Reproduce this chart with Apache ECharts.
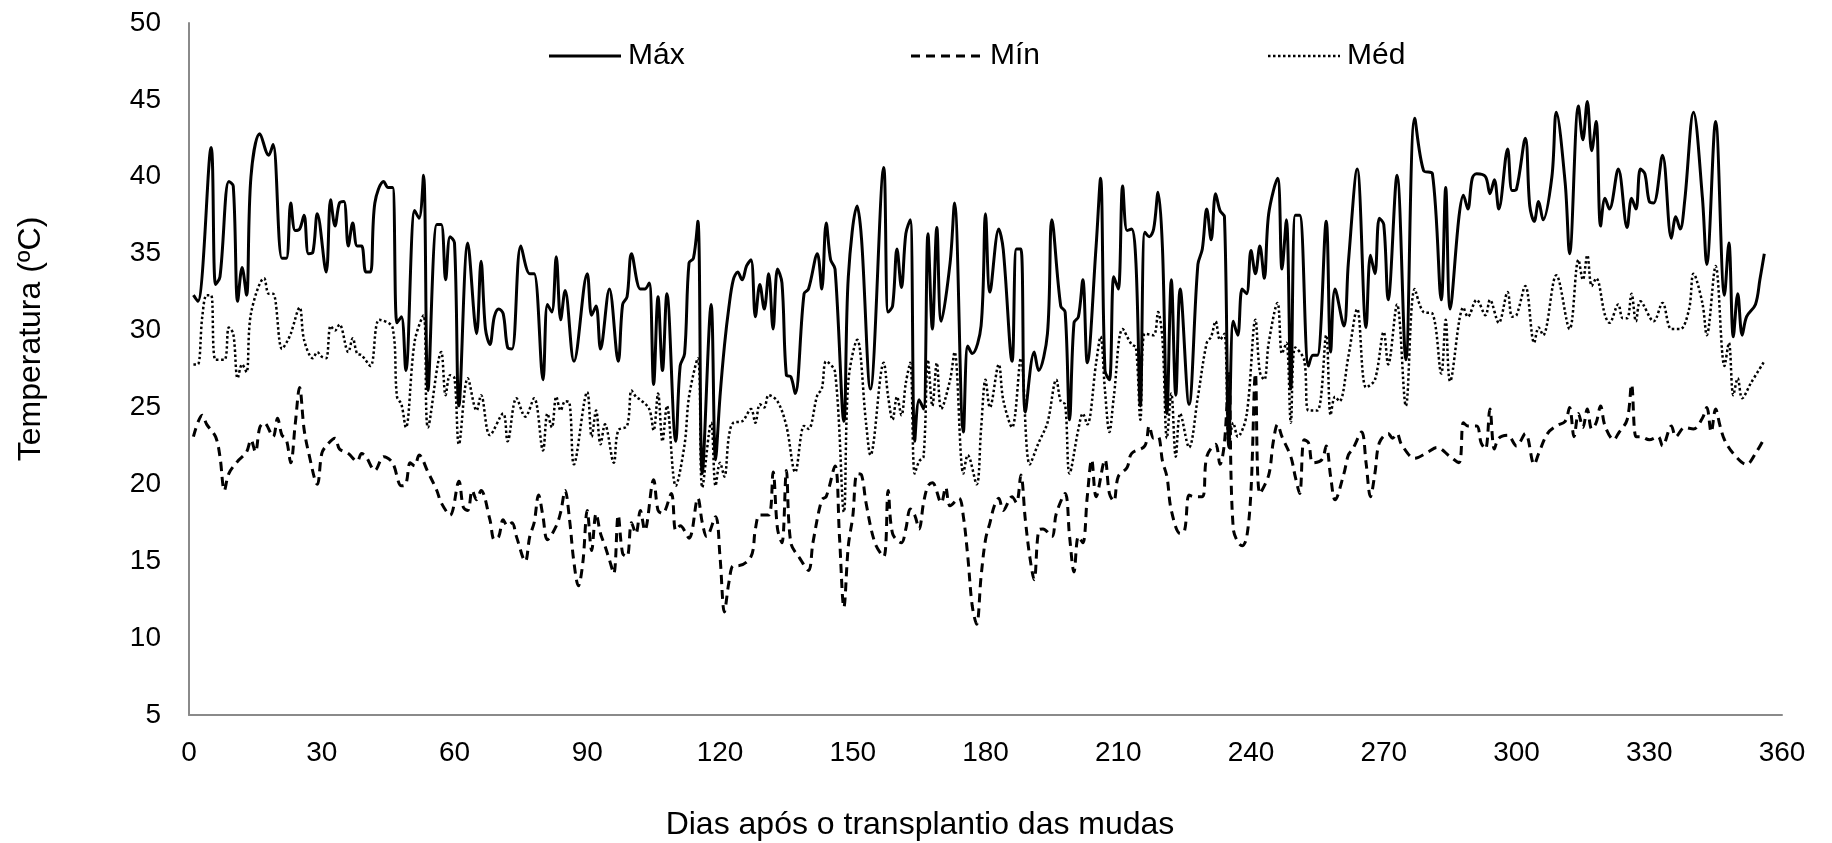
<!DOCTYPE html>
<html>
<head>
<meta charset="utf-8">
<script src="https://cdn.jsdelivr.net/npm/echarts@6/dist/echarts.min.js"></script>
<style>
html,body{margin:0;padding:0;background:#fff;}
#chart{width:1832px;height:843px;}
</style>
</head>
<body>
<div id="chart"></div>
<script>
// Tick labels
const xTicks = [0, 30, 60, 90, 120, 150, 180, 210, 240, 270, 300, 330, 360];
const yTicks = [5, 10, 15, 20, 25, 30, 35, 40, 45, 50];
const seriesNames = ['Máx', 'Mín', 'Méd'];

// Máx
const maxDays = [1,2,5,6,7,9,10,11,12,13,14,16,18,19,21,22,23,24,25,26,27,28,29,31,32,33,34,35,36,37,38,39,40,41,42,44,45,46,47,48,49,51,52,53,54,56,57,58,59,60,61,63,65,66,67,68,69,70,71,72,73,75,77,78,80,81,82,83,84,85,87,90,91,92,93,95,97,98,99,100,102,103,104,105,106,107,108,110,111,112,113,114,115,116,118,119,120,121,122,123,124,125,126,127,128,129,130,131,132,133,134,135,136,137,139,140,142,143,144,145,146,148,149,151,152,154,157,158,159,160,161,162,163,164,165,166,167,168,169,170,172,173,175,176,177,179,180,181,183,184,186,187,188,189,191,192,194,195,197,198,199,200,201,202,203,205,206,207,208,209,210,211,212,213,214,215,216,217,218,219,220,221,222,223,224,226,228,229,230,231,232,233,234,235,236,237,238,239,240,241,242,243,244,246,247,248,249,250,251,253,254,255,257,258,259,261,262,264,266,267,268,269,270,271,273,275,277,279,281,283,284,285,287,288,289,290,291,293,294,295,296,298,299,300,302,303,304,305,306,308,309,311,312,314,315,316,317,318,319,320,321,323,325,326,327,328,329,330,331,333,335,336,337,338,340,342,343,345,347,348,349,350,351,352,354,355,356];
const maxTemps = [32.3,31.9,41.9,33.0,33.5,39.7,39.4,31.9,34.1,32.3,40.0,42.8,41.4,42.1,34.7,34.7,38.3,36.5,36.6,37.5,35.0,35.1,37.6,33.8,38.5,36.8,38.3,38.4,35.5,37.0,35.5,35.5,33.8,33.8,38.3,39.7,39.3,39.3,30.5,30.9,27.4,37.8,37.3,40.1,26.1,36.9,36.9,33.3,36.1,35.7,25.1,35.7,29.8,34.5,30.1,29.1,30.9,31.4,31.1,28.9,28.8,35.5,33.7,33.7,26.8,31.7,31.2,34.8,30.7,32.6,28.0,33.7,31.0,31.6,28.8,32.7,28.0,31.7,32.2,35.0,32.7,32.7,33.1,26.5,32.2,27.4,32.4,22.8,27.7,28.5,34.4,34.7,37.1,20.7,31.7,21.6,25.7,29.0,31.5,33.3,33.8,33.3,34.2,34.6,30.9,33.0,31.4,33.7,30.1,34.0,33.1,27.1,27.0,25.9,32.4,32.7,35.0,32.7,37.0,34.6,34.0,24.1,33.5,38.1,35.9,26.2,40.6,31.2,31.6,35.3,32.8,36.3,37.2,22.8,25.5,24.9,36.3,30.1,36.7,30.6,34.4,38.3,23.4,29.0,28.5,30.3,37.6,32.5,36.6,35.3,28.0,35.3,35.3,24.7,28.6,27.4,29.8,37.2,31.6,31.2,24.2,30.5,30.9,33.3,27.9,35.5,39.9,27.4,26.8,33.5,32.7,39.4,36.5,36.6,34.4,25.1,36.4,36.1,36.6,39.0,35.3,24.6,33.3,25.8,32.7,25.2,34.3,35.3,37.9,35.9,38.9,37.8,37.4,22.4,30.6,29.7,32.7,32.4,35.2,33.7,35.5,33.4,37.6,39.9,34.0,37.2,26.2,37.5,37.5,27.7,28.4,28.4,37.1,28.6,32.7,30.3,34.4,40.5,30.2,34.9,33.7,37.3,36.9,32.0,40.1,28.1,43.8,40.4,40.2,32.0,39.3,31.4,37.4,38.8,37.9,39.9,40.2,40.0,38.9,39.8,37.9,41.8,39.1,39.2,42.5,38.1,37.1,38.4,37.2,40.0,44.2,39.6,35.0,44.6,42.4,44.9,41.7,43.6,36.8,38.6,37.9,40.5,36.7,38.6,37.9,40.5,40.2,38.4,38.3,41.4,36.0,37.4,36.6,38.4,44.2,38.7,34.3,43.6,32.3,35.7,29.6,32.4,29.7,30.9,31.7,33.3,35.0];

// Mín
const minDays = [1,3,4,6,7,8,9,11,13,14,15,16,17,19,20,21,22,23,24,25,26,27,29,30,31,33,34,36,38,39,40,42,44,46,48,49,50,51,52,54,56,57,59,61,62,63,64,65,66,68,69,70,71,72,73,74,76,77,78,79,80,81,83,84,85,86,87,88,89,90,91,92,93,94,95,96,97,98,99,100,101,102,103,105,106,107,109,110,111,113,115,116,117,119,120,121,122,123,124,127,128,129,131,132,133,134,135,136,138,140,141,143,144,146,147,148,149,150,151,152,153,155,157,158,159,161,162,163,164,165,166,167,168,170,171,172,174,175,176,177,178,179,180,181,182,183,184,186,187,188,189,190,191,192,193,195,196,198,199,200,201,202,203,204,205,207,208,209,210,212,213,216,217,218,219,220,221,222,224,225,226,227,229,230,232,233,234,235,236,238,239,240,241,242,244,245,246,247,249,250,251,252,253,254,256,257,258,259,261,262,263,265,266,267,268,269,271,272,273,274,277,280,282,285,287,288,289,291,292,293,294,295,296,298,300,302,304,305,307,309,311,312,313,314,315,316,317,318,319,320,322,323,325,326,327,328,330,332,333,335,336,338,340,342,343,344,345,346,347,349,352,354,356];
const minTemps = [23.1,24.5,23.9,23.1,21.8,19.6,20.7,21.5,22.1,22.9,22.1,23.7,24.0,23.1,24.3,23.2,22.9,21.4,23.9,26.3,23.6,22.1,20.0,22.0,22.5,23.0,22.3,22.0,21.5,22.0,21.8,20.9,21.8,21.4,19.9,20.0,21.4,21.2,21.9,20.8,19.6,18.8,18.0,20.2,18.5,18.3,19.6,19.0,19.6,17.7,16.4,16.6,17.7,17.3,17.5,16.6,15.0,16.6,17.5,19.3,17.9,16.4,17.3,18.2,19.6,17.7,14.9,13.4,14.9,18.3,15.7,18.1,16.8,16.0,15.1,14.2,18.0,15.5,15.3,17.5,16.8,18.3,17.0,20.3,18.3,18.1,19.4,17.0,17.3,16.5,19.1,17.5,16.6,17.9,15.3,11.7,13.6,14.7,14.7,15.3,17.1,18.0,18.0,20.8,17.1,16.2,20.9,16.2,15.2,14.4,16.2,19.0,19.2,21.2,16.6,12.0,16.0,17.9,20.7,20.6,18.8,16.2,15.3,19.6,16.8,16.2,17.1,18.4,18.0,17.1,18.8,19.9,20.1,18.8,19.8,18.6,19.1,17.9,15.3,12.1,10.9,14.0,16.4,17.5,18.6,19.1,18.3,19.2,18.8,20.6,17.7,15.3,13.8,17.0,17.1,16.6,18.1,19.4,16.6,14.3,16.6,16.2,19.2,21.6,19.2,21.6,19.4,18.9,20.5,21.1,22.0,22.5,23.8,23.0,23.1,21.5,20.5,18.3,16.8,17.0,19.3,19.2,19.2,21.8,22.6,21.3,22.7,27.2,17.1,16.0,16.5,19.6,27.2,19.4,20.6,22.7,23.9,23.1,21.8,20.5,19.4,22.9,22.7,21.4,21.6,22.5,20.5,19.0,20.7,21.9,22.3,23.4,21.4,19.2,20.7,22.7,23.3,23.0,23.3,22.6,21.7,22.1,22.4,21.8,21.4,24.0,23.8,23.8,22.7,22.3,24.9,22.3,23.0,23.2,22.5,23.3,21.3,22.0,23.3,23.8,24.1,25.0,23.1,24.6,23.7,24.9,23.6,24.0,25.1,23.8,22.9,23.3,24.2,26.5,23.1,23.1,22.9,23.1,22.5,23.8,23.1,23.7,23.6,24.3,25.0,23.4,24.9,23.8,22.9,22.0,21.3,22.0,23.0];

// Méd
const medDays = [1,2,3,4,5,6,8,9,10,11,12,13,14,17,18,19,21,22,23,25,26,28,29,30,31,32,33,34,36,37,38,39,41,43,46,47,48,49,51,53,54,57,58,59,60,61,63,65,66,68,71,72,74,76,78,80,81,82,83,84,85,86,87,90,91,92,93,94,96,97,99,100,101,102,104,105,106,107,108,110,112,113,115,116,118,119,120,121,122,123,125,127,128,129,130,131,133,135,137,139,140,142,143,144,146,148,149,151,153,154,157,158,159,160,161,162,163,164,165,166,167,168,169,170,172,173,175,176,178,179,180,181,183,184,186,188,190,192,194,196,197,198,199,201,202,203,205,206,207,208,209,211,213,214,215,216,218,219,220,221,222,223,224,226,228,230,231,232,233,234,235,236,237,239,241,242,243,244,246,247,248,249,250,252,253,255,257,258,259,260,262,264,266,268,270,271,273,275,277,279,281,283,284,285,288,289,291,293,294,296,298,299,300,302,304,305,306,309,312,314,315,316,317,318,320,321,323,324,325,326,327,328,331,333,335,337,339,340,342,343,345,347,348,349,350,351,353,356];
const medTemps = [27.8,27.8,30.9,32.3,32.3,28.1,28.1,30.2,29.8,26.9,27.8,27.3,31.1,33.4,32.4,32.4,28.8,29.2,29.8,31.5,29.4,28.2,28.6,28.3,28.2,30.3,30.0,30.4,28.6,29.5,28.5,28.4,27.7,30.7,30.2,25.7,25.2,23.7,29.3,31.0,23.7,28.6,25.8,27.1,26.9,22.6,26.9,24.8,25.8,23.2,24.6,22.8,25.6,24.4,25.6,22.2,24.6,23.7,25.7,24.8,25.4,25.3,21.3,26.0,23.1,24.8,22.6,23.9,21.4,23.5,23.8,26.1,25.7,25.5,24.9,23.5,25.9,22.8,25.1,19.9,22.6,25.7,28.2,19.8,24.0,19.9,21.4,20.5,23.1,24.0,24.1,24.9,24.0,25.2,25.0,25.8,25.4,23.8,20.8,23.8,23.6,25.8,26.2,28.0,27.3,18.2,26.7,29.4,24.0,21.9,27.9,25.7,24.2,25.7,24.5,26.6,27.9,20.7,21.5,21.8,28.1,25.1,27.9,24.9,26.8,28.6,20.7,21.9,20.0,23.6,26.8,25.0,27.8,25.5,23.7,28.2,21.3,22.7,24.0,26.8,25.4,25.2,20.7,23.6,24.6,23.9,27.9,29.6,26.1,23.4,25.7,30.1,29.1,28.9,24.2,29.8,29.7,31.2,29.4,23.0,25.9,21.8,24.6,22.4,25.7,29.2,29.6,30.6,29.4,29.8,22.5,24.0,23.1,24.5,30.7,27.3,26.8,29.2,31.8,28.5,29.2,24.0,28.9,28.1,24.8,24.8,29.7,24.5,25.7,25.4,28.3,31.4,26.3,26.8,29.9,27.8,31.7,25.1,32.7,31.2,31.1,27.2,30.7,26.7,31.5,30.9,32.0,31.0,32.0,30.5,32.5,30.9,31.0,32.9,29.2,30.2,29.7,33.6,30.1,34.6,33.3,34.9,32.9,33.4,31.0,30.5,31.7,30.8,30.8,32.4,30.6,31.9,30.6,31.8,30.1,30.1,31.4,33.7,31.8,29.7,34.2,27.7,29.2,25.8,26.9,25.6,26.6,28.0];

function zip(xs, ys) { return xs.map((d, i) => [d, ys[i]]); }

const FONT = '"Liberation Sans", Arial, sans-serif';
const chart = echarts.init(document.getElementById('chart'), null, { renderer: 'canvas' });

// Legend drawn as line samples + text (line styles match the series)
const lineStyles = [
  { lineWidth: 3, lineDash: null },
  { lineWidth: 3, lineDash: [9, 6] },
  { lineWidth: 2.5, lineDash: [2.5, 2.5] }
];
const legendX = [549, 911, 1268];
const legendY = 56;
const legendGraphics = [];
seriesNames.forEach((name, i) => {
  legendGraphics.push({
    type: 'line',
    shape: { x1: legendX[i], y1: legendY, x2: legendX[i] + 72, y2: legendY },
    style: { stroke: '#000', lineWidth: lineStyles[i].lineWidth, lineDash: lineStyles[i].lineDash }
  });
  legendGraphics.push({
    type: 'text',
    x: legendX[i] + 79, y: legendY,
    style: { text: name, font: '30px ' + FONT, fill: '#000', textAlign: 'left', textVerticalAlign: 'middle' }
  });
});

chart.setOption({
  animation: false,
  backgroundColor: '#ffffff',
  grid: { left: 189, right: 50, top: 23, bottom: 128, containLabel: false },
  xAxis: {
    type: 'value',
    min: xTicks[0],
    max: xTicks[xTicks.length - 1],
    interval: 30,
    axisLine: { show: true, lineStyle: { color: '#8a8a8a', width: 2 } },
    axisTick: { show: false },
    splitLine: { show: false },
    axisLabel: { fontFamily: FONT, fontSize: 28, color: '#000', margin: 24 }
  },
  yAxis: {
    type: 'value',
    min: yTicks[0],
    max: yTicks[yTicks.length - 1],
    interval: 5,
    axisLine: { show: true, lineStyle: { color: '#8a8a8a', width: 2 } },
    axisTick: { show: false },
    splitLine: { show: false },
    axisLabel: { fontFamily: FONT, fontSize: 28, color: '#000', margin: 28 }
  },
  graphic: legendGraphics.concat([
    {
      type: 'text',
      x: 31, y: 339, rotation: Math.PI / 2,
      style: { text: 'Temperatura (ºC)', font: '32px ' + FONT, fill: '#000', textAlign: 'center', textVerticalAlign: 'middle' }
    },
    {
      type: 'text',
      x: 920, y: 825,
      style: { text: 'Dias após o transplantio das mudas', font: '32px ' + FONT, fill: '#000', textAlign: 'center', textVerticalAlign: 'middle' }
    }
  ]),
  series: [
    {
      name: seriesNames[0], type: 'line', smooth: 0.35, symbol: 'none',
      data: zip(maxDays, maxTemps),
      lineStyle: { color: '#000', width: 3, type: 'solid' },
      itemStyle: { color: '#000' }
    },
    {
      name: seriesNames[1], type: 'line', smooth: 0.35, symbol: 'none',
      data: zip(minDays, minTemps),
      lineStyle: { color: '#000', width: 3, type: [9, 6] },
      itemStyle: { color: '#000' }
    },
    {
      name: seriesNames[2], type: 'line', smooth: 0.35, symbol: 'none',
      data: zip(medDays, medTemps),
      lineStyle: { color: '#000', width: 2.5, type: [2.5, 2.5] },
      itemStyle: { color: '#000' }
    }
  ]
});
</script>
</body>
</html>
